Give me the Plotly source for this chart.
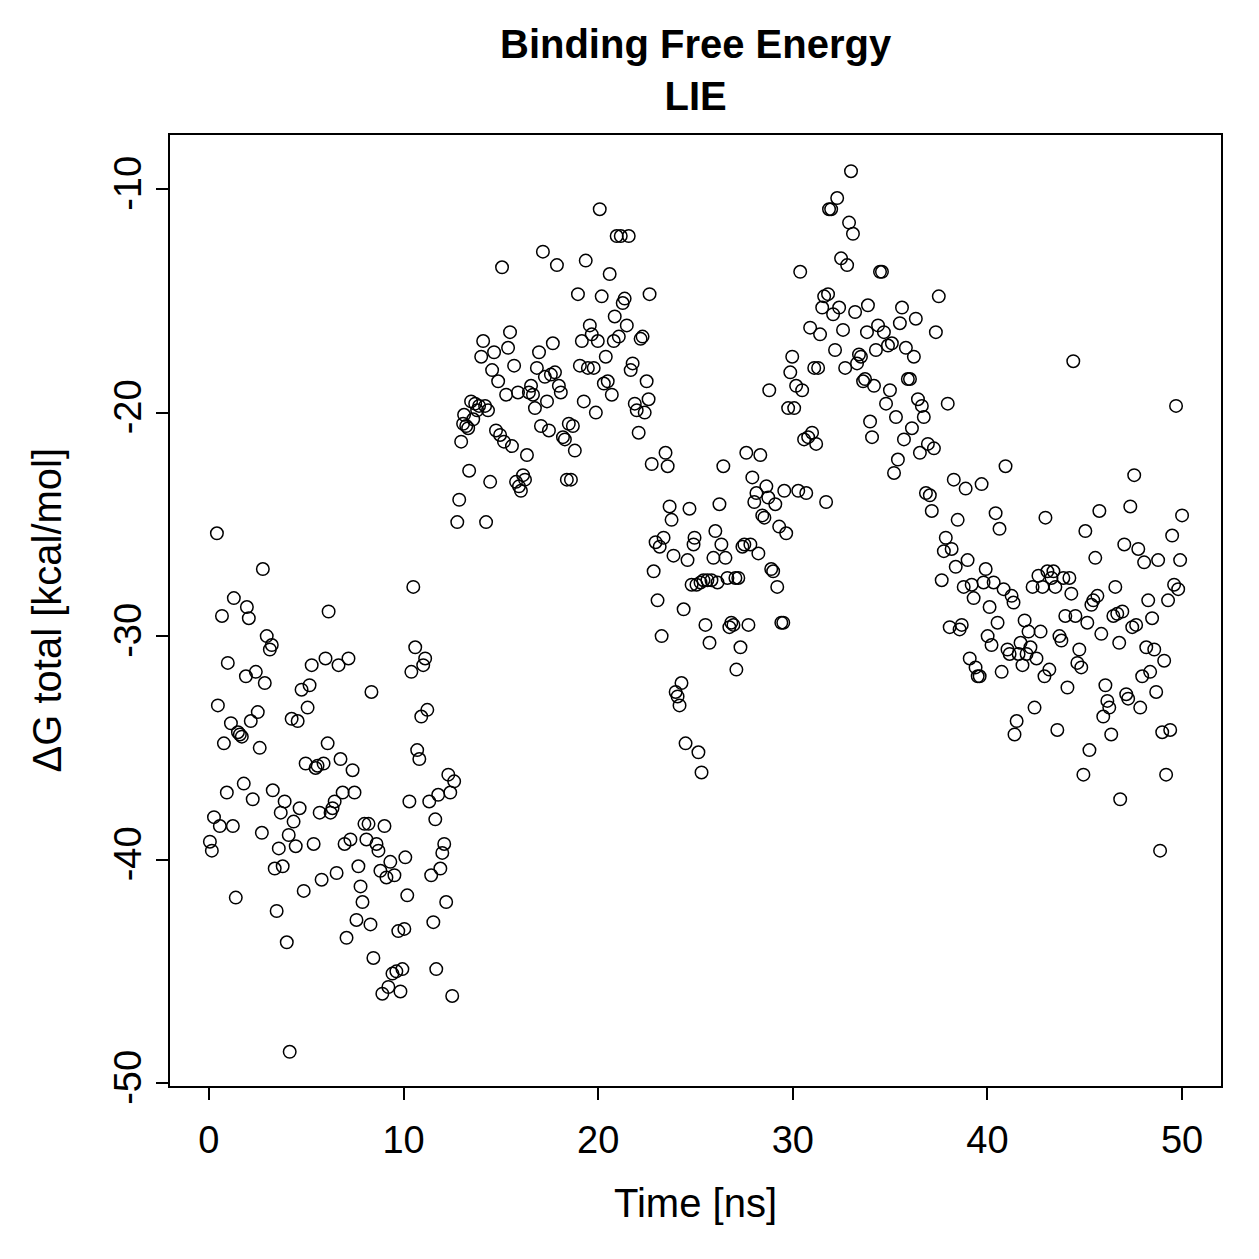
import plotly.graph_objects as go

time_ns = [
    0.41, 0.05, 0.15, 0.26, 0.46, 0.67, 0.56, 0.77, 0.92, 0.97, 1.13, 1.23, 1.28, 1.38, 1.49, 1.59, 1.69, 1.79, 1.90, 1.95,
    2.05, 2.15, 2.25, 2.41, 2.51, 2.61, 2.72, 2.77, 2.87, 2.97, 3.13, 3.23, 3.28, 3.38, 3.48, 3.59, 3.69, 3.79, 3.89, 4.00,
    4.10, 4.15, 4.25, 4.35, 4.46, 4.56, 4.66, 4.76, 4.87, 4.97, 5.07, 5.17, 5.28, 5.38, 5.48, 5.58, 5.69, 5.79, 5.89, 5.99,
    6.10, 6.15, 6.25, 6.35, 6.46, 6.56, 6.66, 6.76, 6.87, 6.97, 7.07, 7.17, 7.27, 7.38, 7.48, 7.58, 7.68, 7.79, 7.89, 7.99,
    8.09, 8.20, 8.30, 8.35, 8.45, 8.61, 8.71, 8.81, 8.91, 9.02, 9.12, 9.22, 9.32, 9.43, 9.53, 9.63, 9.73, 9.84, 9.94, 10.04,
    10.09, 10.19, 10.30, 10.40, 10.50, 10.60, 10.70, 10.81, 10.91, 11.01, 11.11, 11.22, 11.32, 11.42, 11.53, 11.63, 11.68, 11.78, 11.89, 11.99,
    12.09, 12.19, 12.30, 12.40, 12.50, 12.60,
    12.76, 12.86, 12.96, 13.06, 13.11, 13.22, 13.32, 13.37, 13.47, 13.58, 13.68, 13.78, 13.88, 13.99, 14.09, 14.19, 14.24, 14.34, 14.45, 14.55,
    14.65, 14.75, 14.86, 14.96, 15.06, 15.16, 15.27, 15.37, 15.47, 15.57, 15.68, 15.78, 15.88, 15.93, 16.03, 16.14, 16.24, 16.34, 16.44, 16.55,
    16.65, 16.75, 16.85, 16.96, 17.06, 17.16, 17.26, 17.37, 17.47, 17.57, 17.67, 17.78, 17.88, 17.98, 18.08, 18.19, 18.29, 18.39, 18.49, 18.60,
    18.70, 18.80, 18.96, 19.06, 19.16, 19.26, 19.36, 19.47, 19.57, 19.67, 19.77, 19.88, 19.98, 20.08, 20.18, 20.29, 20.39, 20.49, 20.59, 20.70,
    20.80, 20.85, 20.95, 21.06, 21.16, 21.26, 21.36, 21.47, 21.57, 21.67, 21.77, 21.88, 21.98, 22.08, 22.18, 22.28, 22.39, 22.49, 22.59, 22.64,
    22.75,
    22.85, 22.95, 23.05, 23.16, 23.26, 23.36, 23.46, 23.57, 23.67, 23.77, 23.87, 23.98, 24.08, 24.18, 24.28, 24.39, 24.49, 24.59, 24.69, 24.80,
    24.90, 24.95, 25.05, 25.15, 25.26, 25.31, 25.41, 25.51, 25.61, 25.72, 25.82, 25.92, 26.02, 26.13, 26.23, 26.33, 26.43, 26.54, 26.64, 26.74,
    26.84, 26.95, 27.05, 27.10, 27.20, 27.31, 27.41, 27.51, 27.61, 27.72, 27.82, 27.92, 28.02, 28.13, 28.23, 28.33, 28.43, 28.54, 28.64, 28.74,
    28.79, 28.89, 28.99, 29.10, 29.20, 29.30, 29.41, 29.51, 29.56, 29.66, 29.76, 29.87,
    29.97, 30.07, 30.17, 30.28, 30.38, 30.48, 30.58, 30.69, 30.79, 30.89, 30.99, 31.10, 31.20, 31.30, 31.40, 31.51, 31.61, 31.71, 31.81, 31.86,
    31.97, 32.07, 32.17, 32.28, 32.38, 32.48, 32.58, 32.69, 32.79, 32.89, 32.99, 33.09, 33.20, 33.30, 33.40, 33.50, 33.61, 33.71, 33.81, 33.86,
    33.97, 34.07, 34.17, 34.27, 34.38, 34.48, 34.58, 34.68, 34.79, 34.89, 34.99, 35.09, 35.20, 35.30, 35.40, 35.50, 35.61, 35.71, 35.81, 35.91,
    36.02, 36.12, 36.22, 36.32, 36.43, 36.53, 36.63, 36.73, 36.84, 36.94, 37.04, 37.14, 37.25, 37.35, 37.50, 37.65, 37.76, 37.86,
    37.96, 38.06, 38.16, 38.27, 38.37, 38.47, 38.57, 38.68, 38.78, 38.88, 38.98, 39.09, 39.19, 39.29, 39.39, 39.50, 39.60, 39.70, 39.80, 39.91,
    40.01, 40.11, 40.21, 40.32, 40.42, 40.52, 40.62, 40.73, 40.83, 40.93, 41.03, 41.14, 41.24, 41.34, 41.39, 41.50, 41.60, 41.70, 41.80, 41.91,
    42.01, 42.11, 42.21, 42.32, 42.42, 42.52, 42.62, 42.73, 42.83, 42.93, 42.98, 43.08, 43.18, 43.29, 43.39, 43.49, 43.59, 43.70, 43.80, 43.90,
    44.00, 44.11, 44.21, 44.31, 44.41, 44.52, 44.62, 44.72, 44.82, 44.93, 45.03, 45.13, 45.24, 45.34, 45.44, 45.54, 45.65, 45.75, 45.85, 45.95,
    46.06, 46.16, 46.26, 46.36, 46.47, 46.57, 46.67, 46.77, 46.82, 46.93, 47.03, 47.13, 47.23, 47.34, 47.44, 47.54, 47.64, 47.75, 47.85, 47.95,
    48.05, 48.16, 48.26, 48.36, 48.46, 48.57, 48.67, 48.77, 48.87, 48.98, 49.08, 49.18, 49.28, 49.39, 49.49, 49.59, 49.69, 49.80, 49.90, 50.00,
]

dg_total = [
    -25.4, -39.2, -39.6, -38.1, -33.1, -29.1, -38.5, -34.8, -37.0, -31.2, -33.9, -38.5, -28.3, -41.7, -34.3, -34.4, -34.5, -36.6, -31.8, -28.7,
    -29.2, -33.8, -37.3, -31.6, -33.4, -35.0, -38.8, -27.0, -32.1, -30.0, -30.6, -30.4, -36.9, -40.4, -42.3, -39.5, -37.9, -40.3, -37.4, -43.7,
    -38.9, -48.6, -33.7, -38.3, -39.4, -33.8, -37.7, -32.4, -41.4, -35.7, -33.2, -32.2, -31.3, -39.3, -35.9, -35.8, -37.9, -40.9, -35.7, -31.0,
    -34.8, -28.9, -37.9, -37.7, -37.4, -40.6, -31.3, -35.5, -37.0, -39.3, -43.5, -31.0, -39.1, -36.0, -37.0, -42.7, -40.3, -41.2, -41.9, -38.4,
    -39.1, -38.4, -42.9, -32.5, -44.4, -39.3, -39.6, -40.5, -46.0, -38.5, -40.8, -45.7, -40.1, -45.1, -40.7, -45.0, -43.2, -45.9, -44.9, -43.1,
    -39.9, -41.6, -37.4, -31.6, -27.8, -30.5, -35.1, -35.5, -33.6, -31.3, -31.0, -33.3, -37.4, -40.7, -42.8, -38.2, -44.9, -37.1, -40.4, -39.7,
    -39.3, -41.9, -36.2, -37.0, -46.1, -36.5,
    -24.9, -23.9, -21.3, -20.5, -20.1, -20.6, -20.7, -22.6, -19.5, -20.3, -19.6, -19.9, -19.7, -17.5, -16.8, -19.7, -24.9, -19.9, -23.1, -18.1,
    -17.3, -20.8, -18.6, -21.0, -13.5, -21.3, -19.2, -17.1, -16.4, -21.5, -17.9, -23.1, -19.1, -23.3, -23.5, -22.8, -23.0, -21.9, -19.1, -18.8,
    -19.2, -19.8, -18.0, -17.3, -20.6, -12.8, -18.4, -19.5, -20.8, -18.3, -16.9, -18.2, -13.4, -18.8, -19.1, -21.1, -21.2, -23.0, -20.5, -23.0,
    -20.6, -21.7, -14.7, -17.9, -16.8, -19.5, -13.2, -18.0, -16.1, -16.5, -18.0, -20.0, -16.8, -10.9, -14.8, -18.7, -17.5, -18.6, -13.8, -19.2,
    -16.8, -15.7, -12.1, -16.6, -12.1, -15.1, -14.9, -16.1, -12.1, -18.1, -17.8, -19.6, -19.9, -20.9, -16.7, -16.6, -20.0, -18.6, -19.4, -14.7,
    -22.3,
    -27.1, -25.8, -28.4, -26.0, -30.0, -25.6, -21.8, -22.4, -24.2, -24.8, -26.4, -32.5, -32.7, -33.1, -32.1, -28.8, -34.8, -26.6, -24.3, -27.7,
    -25.9, -25.6, -27.7, -35.2, -27.6, -36.1, -27.5, -29.5, -27.5, -30.3, -27.5, -26.5, -25.3, -27.6, -24.1, -25.9, -22.4, -26.5, -27.4, -29.6,
    -29.4, -29.5, -27.4, -31.5, -27.4, -30.5, -26.0, -25.9, -21.8, -29.5, -25.9, -22.9, -24.0, -23.6, -26.3, -21.9, -24.6, -24.7, -23.3, -23.8,
    -19.0, -27.0, -27.1, -24.1, -27.8, -25.1, -29.4, -29.4, -23.5, -25.4, -19.8, -18.2,
    -17.5, -19.8, -18.8, -23.5, -13.7, -19.0, -21.2, -23.6, -21.1, -16.2, -20.9, -18.0, -21.4, -18.0, -16.5, -15.3, -14.8, -24.0, -14.7, -10.9,
    -10.9, -15.6, -17.2, -10.4, -15.3, -13.1, -16.3, -18.0, -13.4, -11.5, -9.2, -12.0, -15.5, -17.8, -17.4, -17.5, -18.6, -18.5, -16.4, -15.2,
    -20.4, -21.1, -18.8, -17.2, -16.1, -13.7, -13.7, -16.4, -19.6, -17.0, -19.0, -16.9, -22.7, -20.2, -22.1, -16.0, -15.3, -21.2, -17.1, -18.5,
    -18.5, -20.7, -17.5, -15.8, -19.4, -21.8, -19.7, -20.2, -23.6, -21.4, -23.7, -24.4, -21.6, -16.4, -14.8, -27.5, -26.2, -25.6,
    -19.6, -29.6, -26.1, -23.0, -26.9, -24.8, -29.7, -29.5, -27.8, -23.4, -26.6, -31.0, -27.7, -28.3, -31.4, -31.8, -31.8, -23.2, -27.6, -27.0,
    -30.0, -28.7, -30.4, -27.6, -24.5, -29.4, -25.2, -31.6, -27.9, -22.4, -30.6, -30.8, -28.2, -28.5, -34.4, -33.8, -30.8, -30.3, -31.3, -29.3,
    -30.8, -29.8, -30.5, -27.8, -33.2, -31.0, -27.3, -29.8, -27.8, -31.8, -24.7, -27.1, -31.5, -27.4, -27.1, -27.8, -34.2, -30.0, -30.2, -27.4,
    -29.1, -32.3, -27.4, -28.1, -17.7, -29.1, -31.2, -30.6, -31.4, -36.2, -25.3, -29.4, -35.1, -28.6, -28.4, -26.5, -28.2, -24.4, -29.9, -33.6,
    -32.2, -32.9, -33.2, -34.4, -29.1, -27.8, -29.0, -30.3, -37.3, -28.9, -25.9, -32.6, -32.8, -24.2, -29.6, -22.8, -29.5, -26.1, -33.2, -31.8,
    -26.7, -30.5, -28.4, -31.6, -29.2, -30.6, -32.5, -26.6, -39.6, -34.3, -31.1, -36.2, -28.4, -34.2, -25.5, -27.7, -19.7, -27.9, -26.6, -24.6,
]

x_ticks = [0, 10, 20, 30, 40, 50]
y_ticks = [-50, -40, -30, -20, -10]

FONT = "Liberation Sans, Arial, Helvetica, sans-serif"

fig = go.Figure()
fig.add_trace(go.Scatter(
    x=time_ns, y=dg_total, mode="markers",
    marker=dict(symbol="circle-open", size=12.5, color="black", line=dict(width=1.5, color="black")),
    showlegend=False, hoverinfo="x+y",
))

axis_common = dict(
    showgrid=False, zeroline=False, showline=True, mirror=True, linecolor="black", linewidth=2,
    ticks="outside", ticklen=12, tickwidth=2, tickcolor="black",
    tickfont=dict(family=FONT, size=38, color="black"),
)

fig.update_layout(
    width=1259, height=1259,
    margin=dict(l=170, r=38, t=135, b=173),
    paper_bgcolor="white", plot_bgcolor="white",
    xaxis=dict(range=[-2, 52], tickvals=x_ticks, ticktext=[str(v) for v in x_ticks],
               ticklabelstandoff=7, **axis_common),
    yaxis=dict(range=[-50.13, -7.58], tickvals=y_ticks, ticktext=[str(v) for v in y_ticks],
               tickangle=-90, **axis_common),
    annotations=[
        dict(text="<b>Binding Free Energy</b><br><b>LIE</b>", x=0.5, y=1 + 65 / 951, xref="paper", yref="paper",
             xanchor="center", yanchor="middle", showarrow=False,
             font=dict(family=FONT, size=40, color="black")),
        dict(text="Time [ns]", x=0.5, y=-117 / 951, xref="paper", yref="paper",
             xanchor="center", yanchor="middle", showarrow=False,
             font=dict(family=FONT, size=40, color="black")),
        dict(text="ΔG total [kcal/mol]", x=-124 / 1051, y=0.5, xref="paper", yref="paper",
             xanchor="center", yanchor="middle", textangle=-90, showarrow=False,
             font=dict(family=FONT, size=40, color="black")),
    ],
)

fig.write_html("out.html")
